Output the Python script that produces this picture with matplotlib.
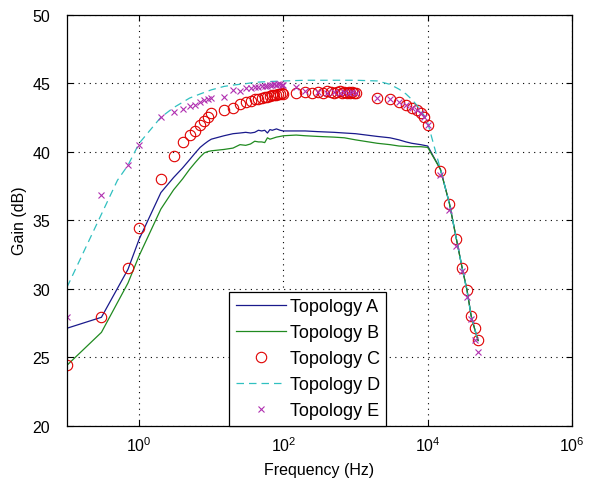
import numpy as np
import matplotlib
matplotlib.use('Agg')
import matplotlib.pyplot as plt

plt.rcParams['font.family'] = ['Liberation Sans', 'DejaVu Sans']

# Topology A (solid line)
freq_a = [0.1, 0.3, 0.7, 1, 2, 3, 4, 5, 6, 7, 8, 9, 10, 15, 20, 25, 30, 35, 40, 45, 50,
          55, 60, 65, 70, 80, 90, 100, 150, 200, 300, 500, 700, 1000, 2000, 3000, 4000,
          5000, 6000, 8000, 10000, 15000, 20000, 25000, 30000, 35000, 40000, 45000, 50000]
gain_a = [27.1, 27.9, 31.4, 33.6, 37.0, 38.1, 38.8, 39.4, 39.9, 40.3, 40.55, 40.75, 40.9,
          41.15, 41.3, 41.35, 41.4, 41.35, 41.4, 41.55, 41.5, 41.55, 41.35, 41.6, 41.55,
          41.65, 41.55, 41.5, 41.5, 41.5, 41.45, 41.4, 41.35, 41.3, 41.1, 41.0, 40.85,
          40.7, 40.6, 40.5, 40.4, 38.7, 36.2, 33.6, 31.5, 29.9, 28.0, 27.0, 26.2]

# Topology B (solid line)
freq_b = [0.1, 0.3, 0.7, 1, 2, 3, 4, 5, 6, 7, 8, 9, 10, 15, 20, 25, 30, 35, 40, 45, 50,
          55, 60, 65, 70, 80, 90, 100, 150, 200, 300, 500, 700, 1000, 2000, 3000, 4000,
          6000, 8000, 10000, 15000, 20000, 25000, 30000, 35000, 40000, 45000, 50000]
gain_b = [24.4, 26.8, 30.4, 32.4, 35.8, 37.2, 38.0, 38.7, 39.2, 39.6, 39.9, 40.0, 40.05,
          40.15, 40.25, 40.5, 40.45, 40.55, 40.75, 40.7, 40.7, 40.65, 41.0, 40.9, 40.95,
          41.05, 41.1, 41.15, 41.2, 41.15, 41.1, 41.05, 41.0, 40.85, 40.6, 40.5, 40.4,
          40.35, 40.35, 40.3, 38.7, 36.2, 33.6, 31.5, 29.9, 28.0, 27.0, 26.2]

# Topology C (circles)
freq_c = [0.1, 0.3, 0.7, 1, 2, 3, 4, 5, 6, 7, 8, 9, 10,
          15, 20, 25, 30, 35, 40, 45, 50, 55, 60, 65, 70, 75, 80, 85, 90, 95, 100,
          150, 200, 250, 300, 350, 400, 450, 500, 550, 600, 650, 700, 750, 800, 850, 900, 950, 1000,
          2000, 3000, 4000, 5000, 6000, 7000, 8000, 9000, 10000,
          15000, 20000, 25000, 30000, 35000, 40000, 45000, 50000]
gain_c = [24.4, 27.9, 31.5, 34.4, 38.0, 39.7, 40.7, 41.2, 41.5, 41.9, 42.2, 42.5, 42.8,
          43.05, 43.2, 43.45, 43.6, 43.7, 43.8, 43.85, 43.9, 43.95, 44.0, 44.05, 44.1, 44.1,
          44.15, 44.2, 44.2, 44.25, 44.2,
          44.3, 44.35, 44.3, 44.35, 44.3, 44.4, 44.35, 44.3, 44.35, 44.4, 44.3, 44.35, 44.3,
          44.35, 44.3, 44.35, 44.3, 44.3,
          43.9, 43.85, 43.6, 43.4, 43.2, 43.0, 42.8, 42.5, 41.9,
          38.6, 36.2, 33.6, 31.5, 29.9, 28.0, 27.1, 26.25]

# Topology D (dashed line)
freq_d = [0.1, 0.5, 0.7, 1, 2, 3, 5, 7, 10, 15, 20, 30, 40, 60, 100, 200, 500, 1000,
          2000, 3000, 4000, 5000, 6000, 7000, 8000, 9000, 10000, 15000, 20000, 25000,
          30000, 35000, 40000, 45000, 50000]
gain_d = [30.1, 37.9, 39.0, 40.6, 42.5, 43.2, 43.9, 44.2, 44.5, 44.75, 44.85, 44.95, 45.05,
          45.1, 45.15, 45.2, 45.2, 45.2, 45.15, 44.9, 44.55, 44.2, 43.8, 43.4, 43.0, 42.6,
          42.1, 38.7, 36.2, 33.6, 31.5, 29.8, 28.0, 27.0, 26.2]

# Topology E (x markers)
freq_e = [0.1, 0.3, 0.7, 1, 2, 3, 4, 5, 6, 7, 8, 9, 10,
          15, 20, 25, 30, 35, 40, 45, 50, 55, 60, 65, 70, 75, 80, 85, 90, 95, 100,
          150, 200, 300, 400, 500, 600, 700, 800, 900, 1000,
          2000, 3000, 4000, 5000, 6000, 7000, 8000, 9000, 10000,
          15000, 20000, 25000, 30000, 35000, 40000, 45000, 50000]
gain_e = [27.9, 36.8, 39.0, 40.45, 42.5, 42.9, 43.1, 43.3, 43.4, 43.6, 43.75, 43.85, 43.9,
          44.0, 44.5, 44.45, 44.6, 44.65, 44.7, 44.7, 44.75, 44.8, 44.8, 44.85, 44.85, 44.9,
          44.85, 44.9, 44.9, 44.85, 44.85,
          44.7, 44.45, 44.35, 44.3, 44.35, 44.3, 44.35, 44.3, 44.35, 44.3,
          43.9, 43.85, 43.6, 43.4, 43.2, 43.0, 42.8, 42.5, 41.9,
          38.3, 35.7, 33.1, 31.3, 29.4, 27.8, 26.25, 25.4]

fig = plt.figure(figsize=(5.9, 4.89), dpi=100)
ax = fig.add_axes([0.1136, 0.1278, 0.8559, 0.8405])

ax.plot(freq_a, gain_a, '-', color='#1a1a8c', lw=0.9, label='Topology A')
ax.plot(freq_b, gain_b, '-', color='#208a20', lw=0.9, label='Topology B')
ax.plot(freq_c, gain_c, 'o', color='#e00000', mfc='none', ms=7.5, mew=0.8, label='Topology C')
ax.plot(freq_d, gain_d, '--', color='#30c0c0', lw=0.9, dashes=(6, 4), label='Topology D')
ax.plot(freq_e, gain_e, 'x', color='#b030b0', ms=5, mew=0.8, label='Topology E')

ax.set_xscale('log')
ax.set_xlim(0.1, 1e6)
ax.set_ylim(20, 50)
ax.set_xticks([1, 1e2, 1e4, 1e6])
ax.xaxis.set_minor_locator(matplotlib.ticker.NullLocator())
ax.set_yticks([20, 25, 30, 35, 40, 45, 50])
ax.tick_params(direction='in', top=True, right=True, labelsize=11.5, length=4, width=0.8)
ax.tick_params(axis='y', pad=12)
ax.tick_params(axis='x', pad=7)
ax.grid(True, linestyle=(0, (1, 4)), color='black', lw=0.8)
for s in ax.spines.values():
    s.set_linewidth(0.9)

ax.set_xlabel('Frequency (Hz)', fontsize=11.5, labelpad=6)
ax.set_ylabel('Gain (dB)', fontsize=11.5, labelpad=4)

leg = ax.legend(loc='lower left', bbox_to_anchor=(0.3214, 0.0), borderaxespad=0,
                fontsize=13, fancybox=False, edgecolor='black', framealpha=1,
                handlelength=2.8, handletextpad=0.2, labelspacing=0.5,
                borderpad=0.35)
leg.get_frame().set_linewidth(0.9)

fig.savefig('out.png', dpi=100)
